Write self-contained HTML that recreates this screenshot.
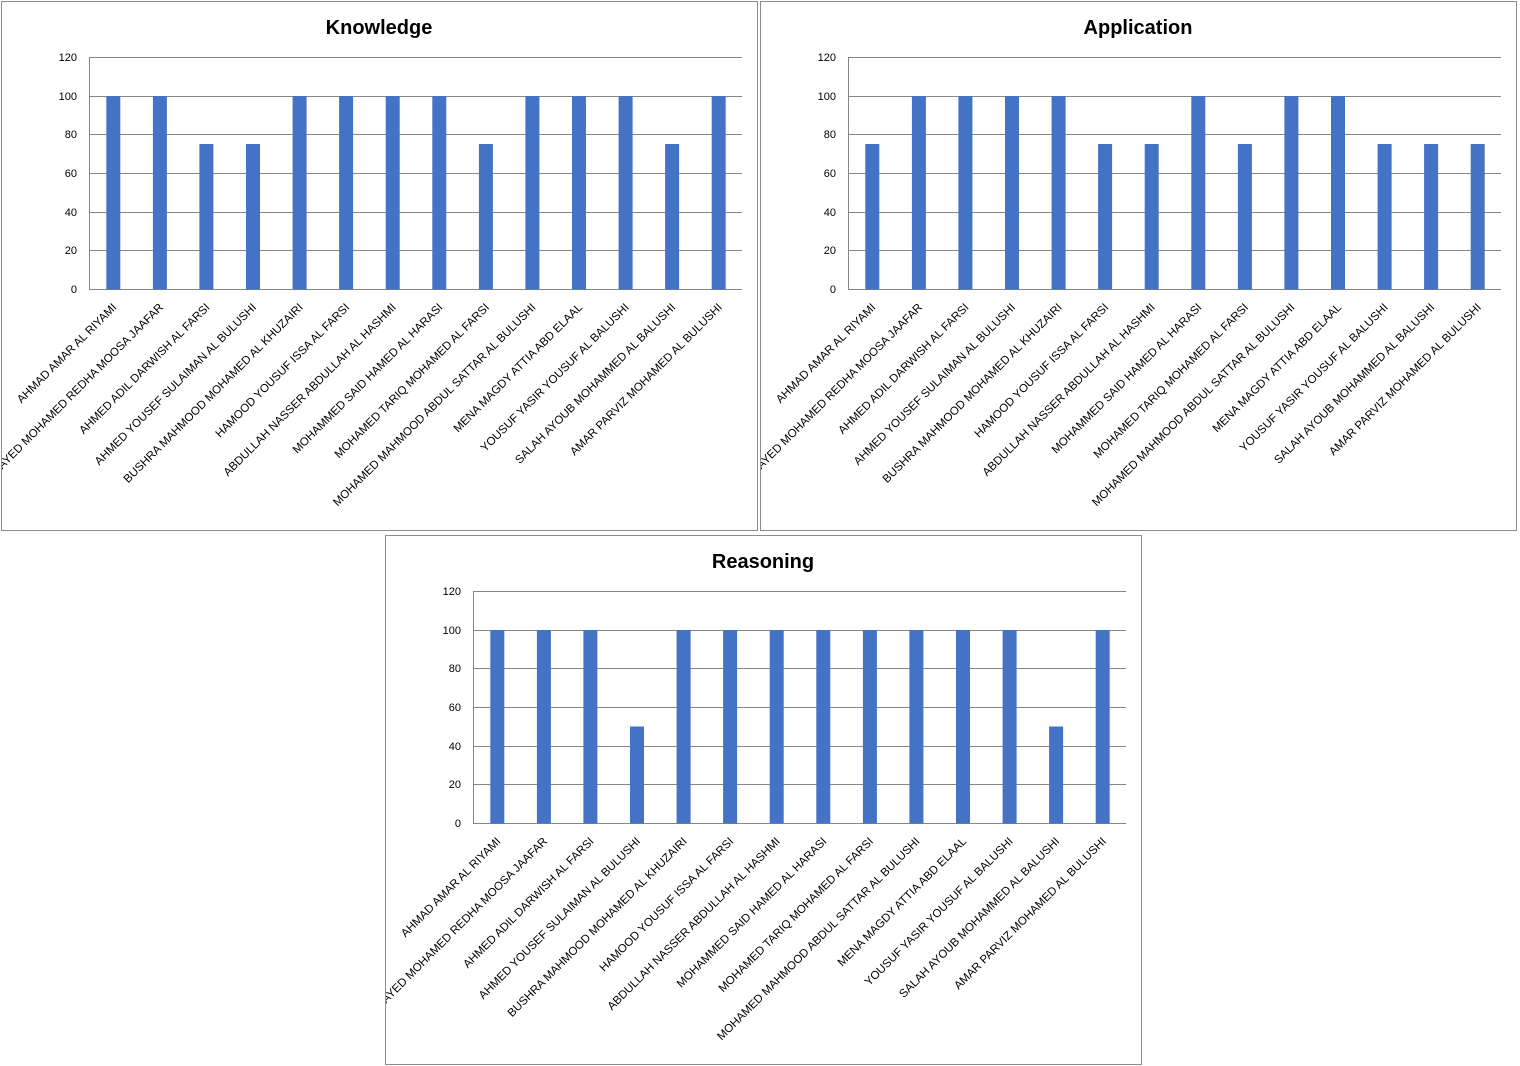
<!DOCTYPE html>
<html><head><meta charset="utf-8"><style>
body{margin:0;background:#fff;width:1520px;height:1066px;position:relative;overflow:hidden;font-family:"Liberation Sans",sans-serif}
.box{position:absolute;width:755px;height:528px;border:1px solid #8c8c8c;overflow:hidden;background:#fff}
svg{position:absolute;left:-1px;top:-1px}
.t{font:bold 20px "Liberation Sans",sans-serif;fill:#000}
.y{font:11px "Liberation Sans",sans-serif;fill:#000;text-anchor:end}
.l{font:11.5px "Liberation Sans",sans-serif;fill:#000;text-anchor:end;white-space:pre}
.g{stroke:#868686;stroke-width:1}
.b{fill:#4472c4}
</style></head><body>

<div class="box" style="left:1px;top:1px">
<svg width="756" height="529">
<text class="t" x="378" y="33" text-anchor="middle">Knowledge</text>
<g class="g"><line x1="89" x2="741" y1="56.5" y2="56.5"/><line x1="89" x2="741" y1="95.5" y2="95.5"/><line x1="89" x2="741" y1="133.5" y2="133.5"/><line x1="89" x2="741" y1="172.5" y2="172.5"/><line x1="89" x2="741" y1="211.5" y2="211.5"/><line x1="89" x2="741" y1="249.5" y2="249.5"/><line x1="89" x2="741" y1="288.5" y2="288.5"/><line x1="88.5" x2="88.5" y1="56" y2="289"/></g>
<g class="y"><text x="76" y="60">120</text><text x="76" y="99">100</text><text x="76" y="137">80</text><text x="76" y="176">60</text><text x="76" y="215">40</text><text x="76" y="253">20</text><text x="76" y="292">0</text></g>
<g class="b">
<rect x="105.3" y="95" width="14" height="193.5"/><rect x="151.9" y="95" width="14" height="193.5"/><rect x="198.4" y="143" width="14" height="145.5"/><rect x="245" y="143" width="14" height="145.5"/><rect x="291.6" y="95" width="14" height="193.5"/><rect x="338.1" y="95" width="14" height="193.5"/><rect x="384.7" y="95" width="14" height="193.5"/><rect x="431.3" y="95" width="14" height="193.5"/><rect x="477.9" y="143" width="14" height="145.5"/><rect x="524.4" y="95" width="14" height="193.5"/><rect x="571" y="95" width="14" height="193.5"/><rect x="617.6" y="95" width="14" height="193.5"/><rect x="664.1" y="143" width="14" height="145.5"/><rect x="710.7" y="95" width="14" height="193.5"/>
</g>
<g class="l">
<text transform="translate(116.3,307) rotate(-45)">AHMAD AMAR  AL RIYAMI</text>
<text transform="translate(162.9,307) rotate(-45)">SAYED MOHAMED REDHA  MOOSA JAAFAR</text>
<text transform="translate(209.4,307) rotate(-45)">AHMED ADIL DARWISH  AL FARSI</text>
<text transform="translate(256,307) rotate(-45)">AHMED YOUSEF  SULAIMAN AL BULUSHI</text>
<text transform="translate(302.6,307) rotate(-45)">BUSHRA MAHMOOD MOHAMED  AL KHUZAIRI</text>
<text transform="translate(349.1,307) rotate(-45)">HAMOOD YOUSUF  ISSA AL FARSI</text>
<text transform="translate(395.7,307) rotate(-45)">ABDULLAH NASSER ABDULLAH AL HASHMI</text>
<text transform="translate(442.3,307) rotate(-45)">MOHAMMED SAID HAMED AL HARASI</text>
<text transform="translate(488.9,307) rotate(-45)">MOHAMED TARIQ  MOHAMED  AL FARSI</text>
<text transform="translate(535.4,307) rotate(-45)">MOHAMED MAHMOOD ABDUL SATTAR  AL BULUSHI</text>
<text transform="translate(582,307) rotate(-45)">MENA MAGDY ATTIA  ABD  ELAAL</text>
<text transform="translate(628.6,307) rotate(-45)">YOUSUF YASIR YOUSUF AL BALUSHI</text>
<text transform="translate(675.1,307) rotate(-45)">SALAH AYOUB MOHAMMED  AL BALUSHI</text>
<text transform="translate(721.7,307) rotate(-45)">AMAR PARVIZ MOHAMED AL BULUSHI</text>
</g>
</svg></div>

<div class="box" style="left:760px;top:1px">
<svg width="756" height="529">
<text class="t" x="378" y="33" text-anchor="middle">Application</text>
<g class="g"><line x1="89" x2="741" y1="56.5" y2="56.5"/><line x1="89" x2="741" y1="95.5" y2="95.5"/><line x1="89" x2="741" y1="133.5" y2="133.5"/><line x1="89" x2="741" y1="172.5" y2="172.5"/><line x1="89" x2="741" y1="211.5" y2="211.5"/><line x1="89" x2="741" y1="249.5" y2="249.5"/><line x1="89" x2="741" y1="288.5" y2="288.5"/><line x1="88.5" x2="88.5" y1="56" y2="289"/></g>
<g class="y"><text x="76" y="60">120</text><text x="76" y="99">100</text><text x="76" y="137">80</text><text x="76" y="176">60</text><text x="76" y="215">40</text><text x="76" y="253">20</text><text x="76" y="292">0</text></g>
<g class="b">
<rect x="105.3" y="143" width="14" height="145.5"/><rect x="151.9" y="95" width="14" height="193.5"/><rect x="198.4" y="95" width="14" height="193.5"/><rect x="245" y="95" width="14" height="193.5"/><rect x="291.6" y="95" width="14" height="193.5"/><rect x="338.1" y="143" width="14" height="145.5"/><rect x="384.7" y="143" width="14" height="145.5"/><rect x="431.3" y="95" width="14" height="193.5"/><rect x="477.9" y="143" width="14" height="145.5"/><rect x="524.4" y="95" width="14" height="193.5"/><rect x="571" y="95" width="14" height="193.5"/><rect x="617.6" y="143" width="14" height="145.5"/><rect x="664.1" y="143" width="14" height="145.5"/><rect x="710.7" y="143" width="14" height="145.5"/>
</g>
<g class="l">
<text transform="translate(116.3,307) rotate(-45)">AHMAD AMAR  AL RIYAMI</text>
<text transform="translate(162.9,307) rotate(-45)">SAYED MOHAMED REDHA  MOOSA JAAFAR</text>
<text transform="translate(209.4,307) rotate(-45)">AHMED ADIL DARWISH  AL FARSI</text>
<text transform="translate(256,307) rotate(-45)">AHMED YOUSEF  SULAIMAN AL BULUSHI</text>
<text transform="translate(302.6,307) rotate(-45)">BUSHRA MAHMOOD MOHAMED  AL KHUZAIRI</text>
<text transform="translate(349.1,307) rotate(-45)">HAMOOD YOUSUF  ISSA AL FARSI</text>
<text transform="translate(395.7,307) rotate(-45)">ABDULLAH NASSER ABDULLAH AL HASHMI</text>
<text transform="translate(442.3,307) rotate(-45)">MOHAMMED SAID HAMED AL HARASI</text>
<text transform="translate(488.9,307) rotate(-45)">MOHAMED TARIQ  MOHAMED  AL FARSI</text>
<text transform="translate(535.4,307) rotate(-45)">MOHAMED MAHMOOD ABDUL SATTAR  AL BULUSHI</text>
<text transform="translate(582,307) rotate(-45)">MENA MAGDY ATTIA  ABD  ELAAL</text>
<text transform="translate(628.6,307) rotate(-45)">YOUSUF YASIR YOUSUF AL BALUSHI</text>
<text transform="translate(675.1,307) rotate(-45)">SALAH AYOUB MOHAMMED  AL BALUSHI</text>
<text transform="translate(721.7,307) rotate(-45)">AMAR PARVIZ MOHAMED AL BULUSHI</text>
</g>
</svg></div>

<div class="box" style="left:385px;top:535px">
<svg width="756" height="529">
<text class="t" x="378" y="33" text-anchor="middle">Reasoning</text>
<g class="g"><line x1="89" x2="741" y1="56.5" y2="56.5"/><line x1="89" x2="741" y1="95.5" y2="95.5"/><line x1="89" x2="741" y1="133.5" y2="133.5"/><line x1="89" x2="741" y1="172.5" y2="172.5"/><line x1="89" x2="741" y1="211.5" y2="211.5"/><line x1="89" x2="741" y1="249.5" y2="249.5"/><line x1="89" x2="741" y1="288.5" y2="288.5"/><line x1="88.5" x2="88.5" y1="56" y2="289"/></g>
<g class="y"><text x="76" y="60">120</text><text x="76" y="99">100</text><text x="76" y="137">80</text><text x="76" y="176">60</text><text x="76" y="215">40</text><text x="76" y="253">20</text><text x="76" y="292">0</text></g>
<g class="b">
<rect x="105.3" y="95" width="14" height="193.5"/><rect x="151.9" y="95" width="14" height="193.5"/><rect x="198.4" y="95" width="14" height="193.5"/><rect x="245" y="191.5" width="14" height="97"/><rect x="291.6" y="95" width="14" height="193.5"/><rect x="338.1" y="95" width="14" height="193.5"/><rect x="384.7" y="95" width="14" height="193.5"/><rect x="431.3" y="95" width="14" height="193.5"/><rect x="477.9" y="95" width="14" height="193.5"/><rect x="524.4" y="95" width="14" height="193.5"/><rect x="571" y="95" width="14" height="193.5"/><rect x="617.6" y="95" width="14" height="193.5"/><rect x="664.1" y="191.5" width="14" height="97"/><rect x="710.7" y="95" width="14" height="193.5"/>
</g>
<g class="l">
<text transform="translate(116.3,307) rotate(-45)">AHMAD AMAR  AL RIYAMI</text>
<text transform="translate(162.9,307) rotate(-45)">SAYED MOHAMED REDHA  MOOSA JAAFAR</text>
<text transform="translate(209.4,307) rotate(-45)">AHMED ADIL DARWISH  AL FARSI</text>
<text transform="translate(256,307) rotate(-45)">AHMED YOUSEF  SULAIMAN AL BULUSHI</text>
<text transform="translate(302.6,307) rotate(-45)">BUSHRA MAHMOOD MOHAMED  AL KHUZAIRI</text>
<text transform="translate(349.1,307) rotate(-45)">HAMOOD YOUSUF  ISSA AL FARSI</text>
<text transform="translate(395.7,307) rotate(-45)">ABDULLAH NASSER ABDULLAH AL HASHMI</text>
<text transform="translate(442.3,307) rotate(-45)">MOHAMMED SAID HAMED AL HARASI</text>
<text transform="translate(488.9,307) rotate(-45)">MOHAMED TARIQ  MOHAMED  AL FARSI</text>
<text transform="translate(535.4,307) rotate(-45)">MOHAMED MAHMOOD ABDUL SATTAR  AL BULUSHI</text>
<text transform="translate(582,307) rotate(-45)">MENA MAGDY ATTIA  ABD  ELAAL</text>
<text transform="translate(628.6,307) rotate(-45)">YOUSUF YASIR YOUSUF AL BALUSHI</text>
<text transform="translate(675.1,307) rotate(-45)">SALAH AYOUB MOHAMMED  AL BALUSHI</text>
<text transform="translate(721.7,307) rotate(-45)">AMAR PARVIZ MOHAMED AL BULUSHI</text>
</g>
</svg></div>

</body></html>
